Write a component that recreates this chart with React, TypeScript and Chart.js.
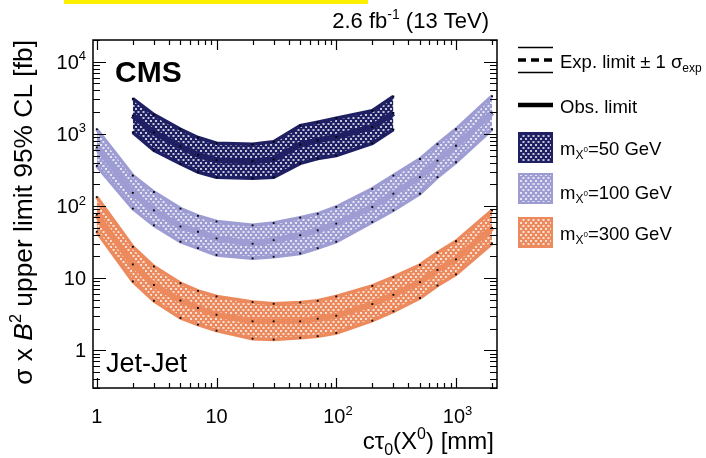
import React, { useEffect, useRef } from "react";
import { Chart, registerables } from "chart.js";
Chart.register(...registerables);

// ---------- data ----------
const ctauFull = [1, 2, 3, 5, 7, 10, 20, 30, 50, 70, 100, 200, 300, 500, 700, 1000, 2000];
const ctau50 = [2, 3, 5, 7, 10, 20, 30, 50, 70, 100, 200, 300];

const m50Up = [3070, 1850, 1160, 890, 740, 720, 780, 1300, 1450, 1650, 2100, 3300];
const m50Exp = [1795, 1045, 668, 512, 431, 418, 442, 712, 812, 908, 1247, 1948];
const m50Down = [1050, 590, 385, 295, 251, 243, 251, 390, 455, 500, 740, 1150];

const m100Up = [1160, 264, 156, 92, 73, 61, 54, 58, 69, 78, 97, 173, 264, 448, 721, 1160, 3340];
const m100Exp = [650, 152, 87, 52, 44, 35.5, 30, 33.6, 39.4, 46, 57, 97, 148, 251, 425, 684, 1970];
const m100Down = [360, 92, 54, 32, 26, 20.9, 18.8, 19.8, 22, 26, 32, 60, 87, 148, 251, 404, 1160];

const m300Up = [133, 27.2, 14.5, 8.5, 6.67, 5.58, 4.66, 4.41, 4.61, 4.85, 5.58, 7.81, 10.3, 15.2, 22.5, 32.5, 87];
const m300Exp = [76, 15.5, 8.05, 4.9, 3.85, 3.11, 2.52, 2.52, 2.52, 2.74, 3.01, 4.37, 5.87, 8.8, 13.0, 18.2, 49.8];
const m300Down = [44, 9.0, 4.85, 2.8, 2.27, 1.87, 1.45, 1.41, 1.49, 1.57, 1.74, 2.57, 3.47, 5.3, 7.9, 11.3, 30.3];

const xTickValues = [1, 10, 100, 1000];
const xTickLabels = ["1", "10", "10^2", "10^3"];
const yTickValues = [1, 10, 100, 1000, 10000];
const yTickLabels = ["1", "10", "10^2", "10^3", "10^4"];

const massLabels = ["50", "100", "300"];
const massColors = ["#1f2064", "#9d9dd3", "#ec8a5e"];

// ---------- helpers ----------
const FAM = '"Liberation Sans", Arial, Helvetica, sans-serif';
type Seg = { t: string; size: number; dy?: number; style?: string; weight?: string };
const segFont = (s: Seg) => `${s.style || "normal"} ${s.weight || "normal"} ${s.size}px ${FAM}`;
function measureRich(ctx: CanvasRenderingContext2D, segs: Seg[]) {
  let w = 0;
  for (const s of segs) {
    ctx.font = segFont(s);
    w += ctx.measureText(s.t).width;
  }
  return w;
}
function drawRich(ctx: CanvasRenderingContext2D, segs: Seg[], x: number, y: number) {
  let cx = x;
  ctx.textAlign = "left";
  ctx.textBaseline = "alphabetic";
  for (const s of segs) {
    ctx.font = segFont(s);
    ctx.fillText(s.t, cx, y + (s.dy || 0));
    cx += ctx.measureText(s.t).width;
  }
}
function powSegs(label: string, size: number): Seg[] {
  const [b, e] = label.split("^");
  const segs: Seg[] = [{ t: b, size }];
  if (e) segs.push({ t: e, size: Math.round(size * 0.65), dy: -size * 0.42 });
  return segs;
}
function makePattern(color: string) {
  const c = document.createElement("canvas");
  c.width = 5;
  c.height = 6;
  const g = c.getContext("2d")!;
  g.fillStyle = color;
  g.fillRect(0, 0, 5, 6);
  g.fillStyle = "rgba(255,255,255,0.75)";
  g.fillRect(0, 0, 2, 2);
  g.fillRect(2.5, 3, 2, 2);
  return g.createPattern(c, "repeat")!;
}

export default function App() {
  const ref = useRef<HTMLCanvasElement>(null);
  useEffect(() => {
    document.body.style.margin = "0";
    const canvas = ref.current!;
    const patterns = massColors.map(makePattern);

    const bandSets = [
      { xs: ctau50, up: m50Up, mid: m50Exp, down: m50Down },
      { xs: ctauFull, up: m100Up, mid: m100Exp, down: m100Down },
      { xs: ctauFull, up: m300Up, mid: m300Exp, down: m300Down },
    ];
    const datasets: any[] = [];
    const common = {
      pointStyle: "rect",
      pointRadius: 1.3,
      pointBackgroundColor: "#000",
      pointBorderWidth: 0,
      tension: 0,
    };
    bandSets.forEach((b, i) => {
      const col = massColors[i];
      datasets.push({
        ...common,
        label: `m${massLabels[i]} exp`,
        data: b.xs.map((x, k) => ({ x, y: b.mid[k] })),
        borderColor: col,
        borderWidth: 6,
        fill: false,
        order: 0,
      });
      datasets.push({
        ...common,
        label: `m${massLabels[i]} up`,
        data: b.xs.map((x, k) => ({ x, y: b.up[k] })),
        borderColor: col,
        borderWidth: 3.5,
        fill: false,
        order: 1,
      });
      datasets.push({
        ...common,
        label: `m${massLabels[i]} down`,
        data: b.xs.map((x, k) => ({ x, y: b.down[k] })),
        borderColor: col,
        borderWidth: 3.5,
        backgroundColor: patterns[i],
        fill: "-1",
        order: 1,
      });
    });

    const decor = {
      id: "rootDecor",
      afterDraw(chart: any) {
        const ctx: CanvasRenderingContext2D = chart.ctx;
        const { left, right, top, bottom } = chart.chartArea;
        const xs = chart.scales.x;
        const ys = chart.scales.y;
        ctx.save();
        // yellow highlight bar
        ctx.fillStyle = "rgb(255,240,0)";
        ctx.fillRect(64, 0, 304, 4);

        ctx.strokeStyle = "#000";
        ctx.fillStyle = "#000";
        ctx.lineWidth = 1.5;
        ctx.strokeRect(left, top, right - left, bottom - top);

        // ticks
        ctx.lineWidth = 1.2;
        const xmin = xs.min, xmax = xs.max, ymin = ys.min, ymax = ys.max;
        for (let e = -1; e <= 4; e++) {
          for (let m = 1; m <= 9; m++) {
            const v = m * Math.pow(10, e);
            if (v >= xmin && v <= xmax) {
              const px = Math.round(xs.getPixelForValue(v)) + 0.5;
              const len = m === 1 ? 10 : 5;
              ctx.beginPath();
              ctx.moveTo(px, bottom);
              ctx.lineTo(px, bottom - len);
              ctx.moveTo(px, top);
              ctx.lineTo(px, top + len);
              ctx.stroke();
            }
            if (v >= ymin && v <= ymax) {
              const py = Math.round(ys.getPixelForValue(v)) + 0.5;
              const len = m === 1 ? 13 : 7;
              ctx.beginPath();
              ctx.moveTo(left, py);
              ctx.lineTo(left + len, py);
              ctx.moveTo(right, py);
              ctx.lineTo(right - len, py);
              ctx.stroke();
            }
          }
        }

        // tick labels
        xTickValues.forEach((v, i) => {
          const segs = powSegs(xTickLabels[i], 20);
          const w = measureRich(ctx, segs);
          const base = powSegs(xTickLabels[i].split("^")[0], 20);
          const wb = measureRich(ctx, base);
          const px = xs.getPixelForValue(v);
          const x0 = xTickLabels[i].includes("^") ? px - wb / 2 - 2 : px - w / 2;
          drawRich(ctx, segs, x0, 423);
        });
        yTickValues.forEach((v, i) => {
          const segs = powSegs(yTickLabels[i], 20);
          const w = measureRich(ctx, segs);
          const py = ys.getPixelForValue(v);
          drawRich(ctx, segs, 86 - w, py + 7);
        });

        // y title (rotated), sized to span the frame height
        const mk = (f: number): Seg[] => [
          { t: "σ x ", size: f },
          { t: "B", size: f, style: "italic" },
          { t: "2", size: f * 0.62, dy: -f * 0.42 },
          { t: " upper limit 95% CL [fb]", size: f },
        ];
        const w0 = measureRich(ctx, mk(24));
        const fy = Math.min(27, (24 * 345) / w0);
        const ySegs = mk(fy);
        const yw = measureRich(ctx, ySegs);
        ctx.save();
        ctx.translate(32, 40 + yw);
        ctx.rotate(-Math.PI / 2);
        drawRich(ctx, ySegs, 0, 0);
        ctx.restore();

        // x title
        const xSegs: Seg[] = [
          { t: "cτ", size: 24 },
          { t: "0", size: 16, dy: 6 },
          { t: "(X", size: 24 },
          { t: "0", size: 16, dy: -10 },
          { t: ") [mm]", size: 24 },
        ];
        const xw = measureRich(ctx, xSegs);
        drawRich(ctx, xSegs, 494 - xw, 449);

        // lumi text
        const lSegs: Seg[] = [
          { t: "2.6 fb", size: 22 },
          { t: "-1", size: 14, dy: -9 },
          { t: " (13 TeV)", size: 22 },
        ];
        const lw = measureRich(ctx, lSegs);
        drawRich(ctx, lSegs, 489 - lw, 28);

        // CMS & Jet-Jet
        drawRich(ctx, [{ t: "CMS", size: 30, weight: "bold" }], 115, 82);
        drawRich(ctx, [{ t: "Jet-Jet", size: 27 }], 106, 372);

        // legend
        const lx0 = 518, lx1 = 553, tx = 560;
        ctx.lineWidth = 1.5;
        ctx.beginPath();
        ctx.moveTo(lx0, 47.5);
        ctx.lineTo(lx1, 47.5);
        ctx.moveTo(lx0, 72.5);
        ctx.lineTo(lx1, 72.5);
        ctx.stroke();
        ctx.lineWidth = 3.5;
        ctx.setLineDash([8, 5]);
        ctx.beginPath();
        ctx.moveTo(lx0, 60);
        ctx.lineTo(lx1, 60);
        ctx.stroke();
        ctx.setLineDash([]);
        drawRich(ctx, [
          { t: "Exp. limit ± 1 σ", size: 18.5 },
          { t: "exp", size: 12, dy: 4 },
        ], tx, 68);
        ctx.lineWidth = 4.5;
        ctx.beginPath();
        ctx.moveTo(lx0, 105);
        ctx.lineTo(lx1, 105);
        ctx.stroke();
        drawRich(ctx, [{ t: "Obs. limit", size: 18.5 }], tx, 113);

        const boxY = [132, 173, 217];
        const textY = [154.5, 198.5, 239.5];
        massLabels.forEach((m, i) => {
          ctx.fillStyle = patterns[i];
          ctx.fillRect(lx0, boxY[i], lx1 - lx0, 31);
          ctx.strokeStyle = massColors[i];
          ctx.lineWidth = 2;
          ctx.strokeRect(lx0 + 1, boxY[i] + 1, lx1 - lx0 - 2, 29);
          ctx.fillStyle = "#000";
          const y = textY[i];
          ctx.font = segFont({ t: "m", size: 18.5 });
          const wm = ctx.measureText("m").width;
          drawRich(ctx, [{ t: "m", size: 18.5 }], tx, y);
          ctx.font = segFont({ t: "X", size: 12 });
          const wx = ctx.measureText("X").width;
          drawRich(ctx, [{ t: "X", size: 12 }], tx + wm, y + 4);
          drawRich(ctx, [{ t: "0", size: 8 }], tx + wm + wx, y - 3);
          drawRich(ctx, [{ t: `=${m} GeV`, size: 18.5 }], tx + wm + wx + 4.5, y);
        });
        ctx.restore();
      },
    };

    const chart = new Chart(canvas, {
      type: "line",
      data: { datasets },
      options: {
        animation: false,
        responsive: false,
        maintainAspectRatio: false,
        layout: { padding: { left: 93, right: 209, top: 40, bottom: 70 } },
        plugins: { legend: { display: false }, tooltip: { enabled: false } },
        scales: {
          x: { type: "logarithmic", min: 0.93, max: 2200, display: false },
          y: { type: "logarithmic", min: 0.32, max: 20000, display: false },
        },
      },
      plugins: [decor],
    } as any);
    return () => chart.destroy();
  }, []);
  return (
    <div style={{ width: 706, height: 458 }}>
      <canvas ref={ref} width={706} height={458} style={{ display: "block" }} />
    </div>
  );
}
